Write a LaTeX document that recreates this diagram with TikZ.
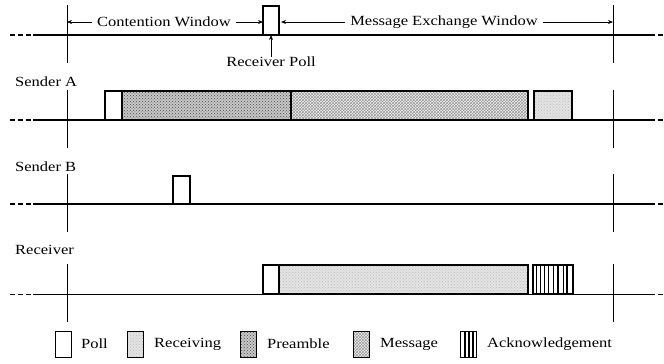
\documentclass[tikz,border=0pt]{standalone}
\usepackage{fontspec}
\setmainfont{Liberation Serif}[FakeStretch=1.18]
\usepackage{tikz}
\usetikzlibrary{positioning}
\usetikzlibrary{patterns}
\usetikzlibrary{calc}
\usetikzlibrary{arrows.meta}
\tikzstyle{timeline} = [line width=1.6pt]
\tikzstyle{stub} = [line width=1.2pt, dash pattern=on 5pt off 3pt]
\tikzstyle{marker} = [line width=0.7pt]
\tikzstyle{slot} = [rectangle, draw=black, line width=1.2pt, inner sep=0pt, outer sep=0pt, minimum height=29pt]
\tikzstyle{poll} = [slot, fill=white]
\tikzstyle{receiving} = [slot, preaction={fill=gray!22}, pattern=crosshatch dots, pattern color=gray!50]
\tikzstyle{preamble} = [slot, preaction={fill=gray!45}, pattern=crosshatch dots, pattern color=black!70]
\tikzstyle{message} = [slot, preaction={fill=gray!12}, pattern=crosshatch, pattern color=black!40]
\tikzstyle{ack} = [slot, fill=white]
\tikzstyle{legendbox} = [rectangle, draw=black, line width=0.8pt, inner sep=0pt, outer sep=0pt, minimum width=16pt, minimum height=26pt, anchor=south west]
\tikzstyle{label} = [font=\fontsize{14}{16}\selectfont, inner sep=0pt]
\tikzstyle{arrow} = [line width=0.7pt, -{Stealth[length=5pt,width=4pt]}]

\begin{document}
\begin{tikzpicture}[x=1pt, y=-1pt]
        \useasboundingbox (0,0) rectangle (664,364);

        % time lines and window markers
        \foreach \y/\w in {35/1.6, 120/1.6, 204/1.6, 294/1.0} {
            \draw [stub, line width=\w pt] (10,\y) -- (33,\y);
            \draw [timeline, line width=\w pt] (33,\y) -- (650,\y);
            \draw [stub, line width=\w pt] (650,\y) -- (664,\y);
            \draw [marker] (67,\y-30) -- (67,\y+28);
            \draw [marker] (613,\y-30) -- (613,\y+28);
        }
        \coordinate (lx) at (67,0);
        \coordinate (rx) at (613,0);

        % receiver poll on the channel
        \node (pollTop) [poll, minimum width=16pt, anchor=south west] at (263,35) {};
        \node (cw) [label, inner xsep=5pt] at (164,22) {Contention Window};
        \node (mew) [label, inner xsep=5pt] at (444,22) {Message Exchange Window};
        \draw [arrow] (cw.west) -- (cw.west -| lx);
        \draw [arrow] (cw.east) -- (cw.east -| pollTop.west);
        \draw [arrow] (mew.west) -- ($(mew.west -| pollTop.east)+(2pt,0)$);
        \draw [arrow] (mew.east) -- (mew.east -| rx);
        \node (rp) [label] at (271,62) {Receiver Poll};
        \draw [arrow] (rp.north) -- (pollTop.south);

        % sender A
        \node (senderA) [label, anchor=west] at (15,82) {Sender A};
        \node (pollA) [poll, minimum width=17pt, anchor=south west] at (105,120) {};
        \node (preA) [preamble, minimum width=169pt, right=0pt of pollA] {};
        \node (msgA) [message, minimum width=237pt, right=0pt of preA] {};
        \node (rcvA) [receiving, minimum width=38pt, right=6pt of msgA] {};

        % sender B
        \node (senderB) [label, anchor=west] at (15,167) {Sender B};
        \node (pollB) [poll, minimum width=17pt, minimum height=28pt, anchor=south west] at (173,204) {};

        % receiver
        \node (receiver) [label, anchor=west] at (15,250) {Receiver};
        \node (pollR) [poll, minimum width=16pt, anchor=south west] at (263,294) {};
        \node (rcvR) [receiving, minimum width=249pt, right=0pt of pollR] {};
        \node (ackR) [ack, minimum width=40pt, right=5pt of rcvR] {};
        \foreach \f/\w in {0.08/0.5, 0.18/0.5, 0.28/0.5, 0.38/0.5, 0.5/0.5, 0.62/1.5, 0.75/0.5, 0.85/1.5}
            \draw [line width=\w pt] ($(ackR.south west)!\f!(ackR.south east)$) -- ($(ackR.north west)!\f!(ackR.north east)$);

        % legend
        \node (kPoll) [legendbox, fill=white] at (55,357) {};
        \node (tPoll) [label, right=10pt of kPoll] {Poll};
        \node (kRcv) [legendbox, preaction={fill=gray!22}, pattern=crosshatch dots, pattern color=gray!50] at (127,357) {};
        \node (tRcv) [label, right=11pt of kRcv] {Receiving};
        \node (kPre) [legendbox, preaction={fill=gray!45}, pattern=crosshatch dots, pattern color=black!70] at (240,357) {};
        \node (tPre) [label, right=11pt of kPre] {Preamble};
        \node (kMsg) [legendbox, preaction={fill=gray!12}, pattern=crosshatch, pattern color=black!40] at (353,357) {};
        \node (tMsg) [label, right=11pt of kMsg] {Message};
        \node (kAck) [legendbox, fill=white] at (460,357) {};
        \foreach \f in {0.3, 0.55, 0.8}
            \draw [line width=1.6pt] ($(kAck.south west)!\f!(kAck.south east)$) -- ($(kAck.north west)!\f!(kAck.north east)$);
        \node (tAck) [label, right=11pt of kAck] {Acknowledgement};
    \end{tikzpicture}
\end{document}
